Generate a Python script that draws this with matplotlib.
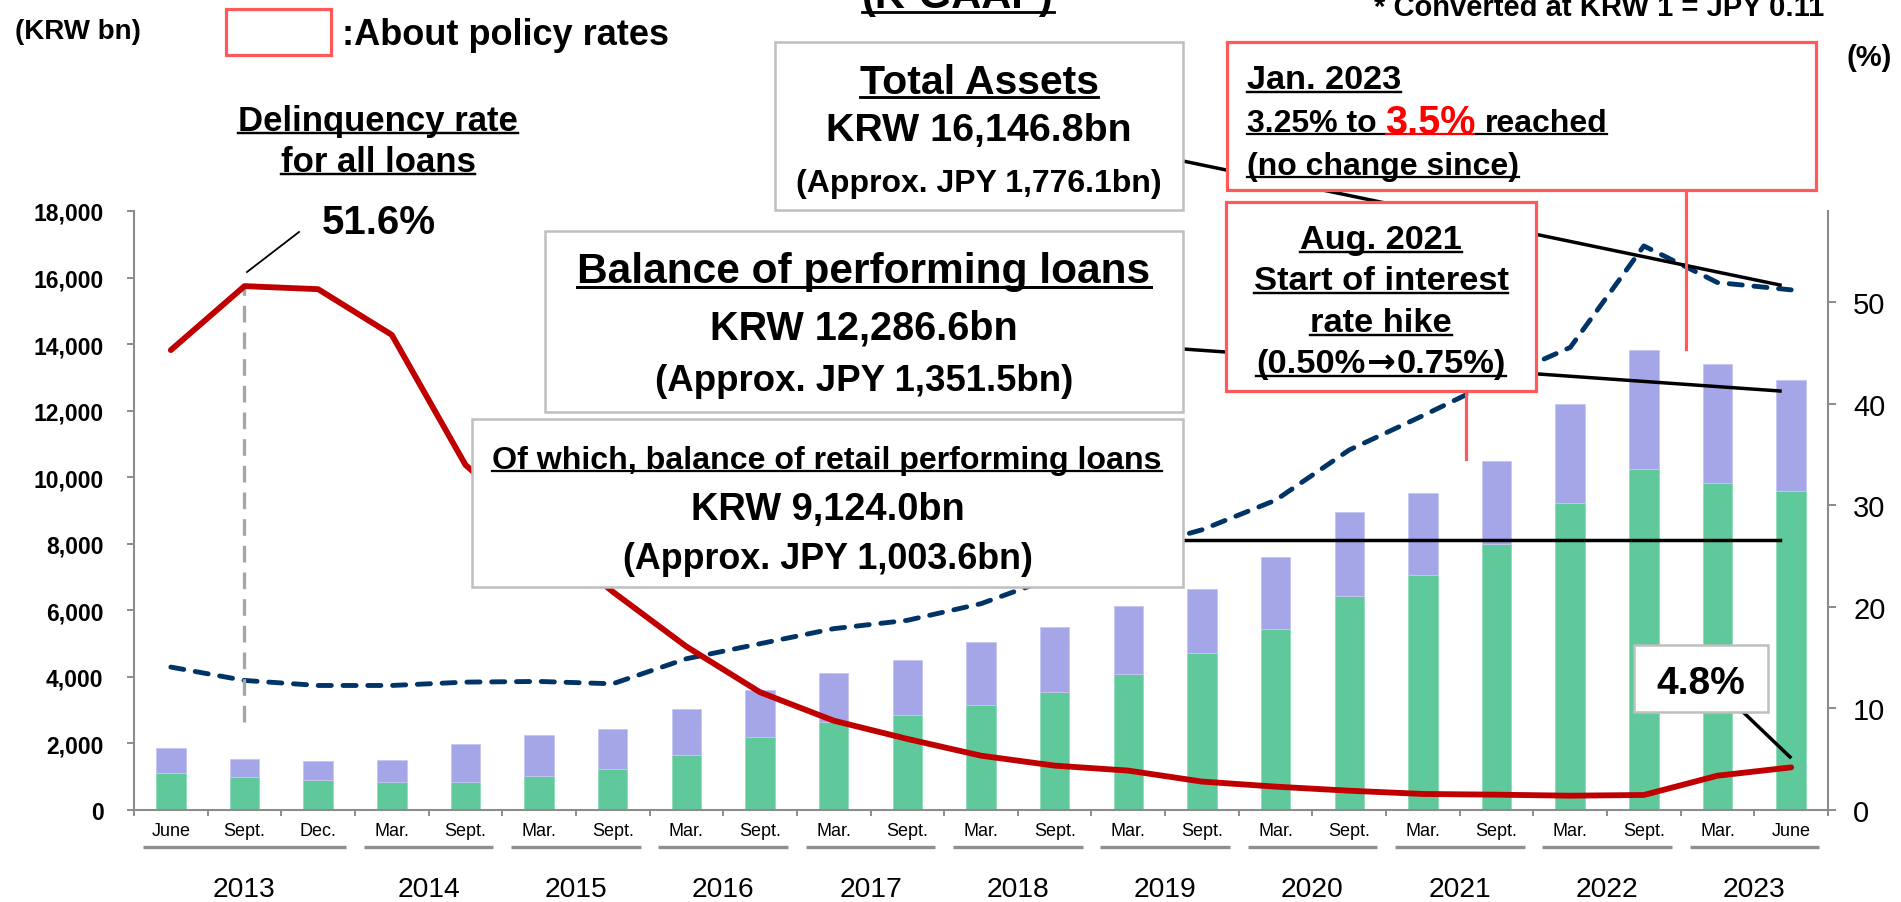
import matplotlib
matplotlib.use('Agg')
import matplotlib.pyplot as plt
import matplotlib.transforms as mtransforms
from matplotlib.patches import Rectangle
from matplotlib.lines import Line2D
import numpy as np

W, H = 1901, 903
plt.rcParams['font.family'] = ['Liberation Sans', 'DejaVu Sans']

# ---- data ----
periods = ['June', 'Sept.', 'Dec.', 'Mar.', 'Sept.', 'Mar.', 'Sept.', 'Mar.', 'Sept.',
           'Mar.', 'Sept.', 'Mar.', 'Sept.', 'Mar.', 'Sept.', 'Mar.', 'Sept.',
           'Mar.', 'Sept.', 'Mar.', 'Sept.', 'Mar.', 'June']
years = ['2013', '2014', '2015', '2016', '2017', '2018', '2019', '2020', '2021', '2022', '2023']
year_first = [0, 3, 5, 7, 9, 11, 13, 15, 17, 19, 21]
year_last = [2, 4, 6, 8, 10, 12, 14, 16, 18, 20, 22]

# KRW bn, left axis
total_loans = [1866, 1526, 1475, 1515, 1997, 2258, 2428, 3030, 3612, 4113, 4495, 5047,
               5499, 6131, 6652, 7606, 8940, 9540, 10475, 12210, 13820, 13390, 12910]
retail_loans = [1123, 1003, 912, 843, 843, 1033, 1224, 1666, 2197, 2655, 2840, 3170,
                3532, 4094, 4726, 5428, 6420, 7053, 8000, 9225, 10244, 9830, 9594]
total_assets = [4295, 3893, 3742, 3742, 3843, 3863, 3793, 4545, 4997, 5449, 5700, 6200,
                7000, 7800, 8420, 9310, 10820, 11850, 12920, 13900, 16950, 15850, 15630]
# %, right axis
delinquency = [45.3, 51.6, 51.3, 46.8, 34.0, 27.5, 21.5, 16.1, 11.6, 8.8, 7.0, 5.35,
               4.37, 3.88, 2.8, 2.3, 1.9, 1.58, 1.51, 1.41, 1.48, 3.38, 4.2]

GREEN = '#5fc99c'
PURPLE = '#a5a6e7'
RED = '#c00000'
NAVY = '#003366'
BOX_RED = '#ff5959'
BOX_GRAY = '#bfbfbf'
AX_GRAY = '#8c8c8c'

fig = plt.figure(figsize=(W / 100, H / 100), dpi=100)
ax = fig.add_axes([134 / W, 1 - 811 / H, (1828 - 134) / W, (811 - 212) / H])
ax2 = ax.twinx()

x = np.arange(len(periods))
other = np.array(total_loans) - np.array(retail_loans)
ax.bar(x, retail_loans, width=0.4, color=GREEN, edgecolor='#8edbb8', linewidth=0.6, zorder=2)
ax.bar(x, other, bottom=retail_loans, width=0.4, color=PURPLE, edgecolor='#c6c7f2',
       linewidth=0.6, zorder=2)
ax.plot(x, total_assets, color=NAVY, lw=3.5, ls=(0, (2.7, 2.4)), dash_capstyle='round',
        zorder=3)

ax2.vlines(1, 8.7, delinquency[1], color='#a6a6a6', lw=2.4, linestyles=(0, (5, 3)), zorder=1)
ax2.plot(x, delinquency, color=RED, lw=4.2, solid_joinstyle='round',
         solid_capstyle='round', zorder=3)

ax.set_xlim(-0.5, 22.5)
ax.set_ylim(0, 18000)
ax2.set_ylim(0, 59)

for s in ['top', 'right']:
    ax.spines[s].set_visible(False)
for s in ['top', 'left', 'bottom']:
    ax2.spines[s].set_visible(False)
for sp in [ax.spines['left'], ax.spines['bottom'], ax2.spines['right']]:
    sp.set_color(AX_GRAY)
    sp.set_linewidth(1.5)

yt = np.arange(0, 18001, 2000)
ax.set_yticks(yt, labels=[f'{v:,}' for v in yt], fontsize=16.5, fontweight='bold')
ax.tick_params(axis='y', length=5, width=1.4, color=AX_GRAY, pad=17)
ax2.set_yticks(np.arange(0, 51, 10), labels=[str(v) for v in range(0, 51, 10)], fontsize=21)
ax2.tick_params(axis='y', length=6, width=1.4, color=AX_GRAY, pad=12)

ax.set_xticks(x, labels=periods, fontsize=13)
ax.tick_params(axis='x', which='major', length=0, pad=9)
ax.set_xticks(np.arange(-0.5, 23, 1), minor=True)
ax.tick_params(axis='x', which='minor', length=4, width=1.4, color=AX_GRAY)

# year groups under the month labels
trans = mtransforms.blended_transform_factory(ax.transData, ax.transAxes)
for yr, a, b in zip(years, year_first, year_last):
    ax.plot([a - 0.38, b + 0.38], [-0.0613, -0.0613], transform=trans, color='#8f8f8f',
            lw=2.4, clip_on=False, solid_capstyle='butt')
    ax.text((a + b) / 2, -0.1432, yr, transform=trans, ha='center', va='baseline',
            fontsize=20.3)

# ---- figure-level annotations (pixel coordinates of the slide) ----
lined = []


def fxy(px, py):
    return px / W, 1 - py / H


def put(px, cy, s, size, ha='center', color='black', weight='bold', underline=False,
        family=None):
    em = size * 100 / 72
    base = cy + 0.36 * em
    t = fig.text(*fxy(px, base), s, ha=ha, va='baseline', fontsize=size,
                 fontweight=weight, color=color, zorder=5)
    if family:
        t.set_family(family)
    if underline:
        lined.append((t, base + 0.11 * em, color, 0.07 * em * 0.72))
    return t


def box(x0, y0, x1, y1, ec, lw):
    fig.patches.append(Rectangle(fxy(x0, y1), (x1 - x0) / W, (y1 - y0) / H,
                                 transform=fig.transFigure, facecolor='white',
                                 edgecolor=ec, lw=lw, zorder=3))


def link(x0, y0, x1, y1, color='black', lw=2.5):
    fig.lines.append(Line2D([x0 / W, x1 / W], [1 - y0 / H, 1 - y1 / H],
                            transform=fig.transFigure, color=color, lw=lw, zorder=2))


def hline(xa, xb, y_disp, color, lw):
    fig.lines.append(Line2D([xa / W, xb / W], [y_disp / H] * 2, transform=fig.transFigure,
                            color=color, lw=lw, zorder=5))


# connectors (behind the boxes)
link(1183, 162, 1780, 286)
link(1183, 350, 1780, 392)
link(1183, 541, 1780, 541)
link(1686, 191, 1686, 350, color=BOX_RED, lw=2.3)
link(1466, 391, 1466, 460, color=BOX_RED, lw=2.3)
link(1742, 712, 1790, 758)
link(247, 273, 299, 233, lw=1.3)

# header
put(15, 29, '(KRW bn)', 20, ha='left')
box(226, 10, 331, 56, BOX_RED, 2.3)
put(342, 32, ':About policy rates', 26, ha='left')
kg = fig.text(*fxy(958, 8), '(K-GAAP)', ha='center', va='baseline', fontsize=30,
              fontweight='bold', zorder=5)
lined.append((kg, 13, 'black', 2.0))
fig.text(*fxy(1374, 16), '* Converted at KRW 1 = JPY 0.11', ha='left', va='baseline',
         fontsize=21, fontweight='bold', zorder=5)
put(1846, 56, '(%)', 21, ha='left')

put(378, 118, 'Delinquency rate', 25, underline=True)
put(378, 159, 'for all loans', 25, underline=True)
put(379, 220, '51.6%', 29)

# total assets
box(775, 43, 1183, 211, BOX_GRAY, 1.8)
put(979, 79, 'Total Assets', 29.5, underline=True)
put(979, 127, 'KRW 16,146.8bn', 28.4)
put(979, 181, '(Approx. JPY 1,776.1bn)', 23)

# performing loans
box(545, 232, 1183, 413, BOX_GRAY, 1.8)
put(864, 268, 'Balance of performing loans', 30.6, underline=True)
put(864, 325, 'KRW 12,286.6bn', 28.5)
put(864, 378, '(Approx. JPY 1,351.5bn)', 26.4)

# retail performing loans
box(472, 420, 1183, 588, BOX_GRAY, 1.8)
put(827, 457, 'Of which, balance of retail performing loans', 23.1, underline=True)
put(828, 506, 'KRW 9,124.0bn', 27.4)
put(828, 556, '(Approx. JPY 1,003.6bn)', 25.8)

# policy rate boxes
box(1227, 43, 1816, 191, BOX_RED, 2.3)
put(1247, 77, 'Jan. 2023', 24.7, ha='left', underline=True)
p1 = put(1247, 120, '3.25% to', 23, ha='left')
p2 = put(1380, 120, '3.5%', 28.5, ha='left', color='#ff0000')
p3 = put(1485, 120, 'reached', 23, ha='left')
put(1247, 163, '(no change since)', 23, ha='left', underline=True)

box(1226, 203, 1536, 392, BOX_RED, 2.3)
put(1381, 237, 'Aug. 2021', 24.7, underline=True)
put(1381, 278, 'Start of interest', 24.8, underline=True)
put(1381, 320, 'rate hike', 24.8, underline=True)
a1 = put(1300, 361, '(0.50%', 24.8, ha='left')
a2 = put(1380, 361, '\u2192', 24.8, ha='left', family=['DejaVu Sans'])
a3 = put(1420, 361, '0.75%)', 24.8, ha='left')

box(1634, 646, 1768, 713, BOX_GRAY, 1.8)
put(1701, 680, '4.8%', 28)

# lay out the mixed pieces, then add underlines
fig.canvas.draw()
r = fig.canvas.get_renderer()
sp = 0.278 * 23 * 100 / 72
b1 = p1.get_window_extent(r)
p2.set_x((b1.x1 + sp) / W)
fig.canvas.draw()
b2 = p2.get_window_extent(r)
p3.set_x((b2.x1 + sp) / W)
fig.canvas.draw()
b3 = p3.get_window_extent(r)
uy = H - (120 + 0.36 * 32 + 0.11 * 32)
hline(b1.x0, b2.x0, uy, 'black', 1.6)
hline(b2.x0, b2.x1, uy, '#ff0000', 1.6)
hline(b2.x1, b3.x1, uy, 'black', 1.6)

# arrow line of the Aug. 2021 box, centred on the box
wa = [t.get_window_extent(r).width for t in (a1, a2, a3)]
gap = 1.5
start = 1381 - (sum(wa) + 2 * gap) / 2
a1.set_x(start / W)
a2.set_x((start + wa[0] + gap) / W)
a3.set_x((start + wa[0] + wa[1] + 2 * gap) / W)
uy2 = H - (361 + 0.36 * 34.4 + 0.11 * 34.4)
hline(start, start + sum(wa) + 2 * gap, uy2, 'black', 1.7)
fig.canvas.draw()

for t, uyp, c, lw in lined:
    bb = t.get_window_extent(r)
    hline(bb.x0, bb.x1, H - uyp, c, max(lw, 1.4))

fig.savefig('out.png', dpi=100)
